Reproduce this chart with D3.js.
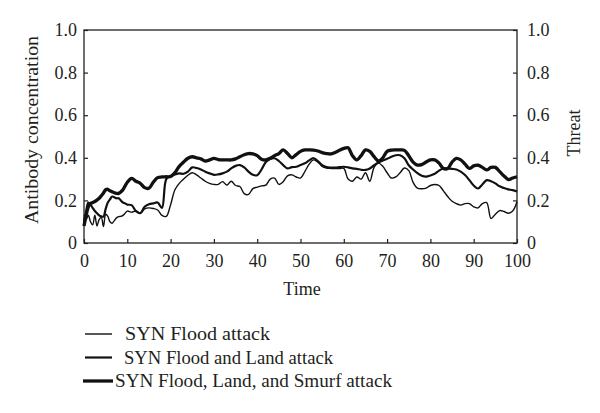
<!DOCTYPE html>
<html>
<head>
<meta charset="utf-8">
<script src="https://cdn.jsdelivr.net/npm/d3@7"></script>
<style>
  body { margin: 0; background: #fff; }
  text { font-family: "Liberation Serif", "Times New Roman", serif; fill: #231f20; }
</style>
</head>
<body>
<div id="chart"></div>
<script>
// time axis (sampled a bit finer at the start where the thin line wiggles)
var time = [0, 0.5, 1, 1.5, 2, 2.5, 3, 3.5, 4, 4.5, 5, 5.5, 6, 6.5, 7, 7.5, 8, 8.5, 9, 9.5,
  10, 11, 12, 13, 14, 15, 16, 17, 18, 19, 20, 21, 22, 23, 24, 25, 26, 27, 28, 29,
  30, 31, 32, 33, 34, 35, 36, 37, 38, 39, 40, 41, 42, 43, 44, 45, 46, 47, 48, 49,
  50, 51, 52, 53, 54, 55, 56, 57, 58, 59, 60, 61, 62, 63, 64, 65, 66, 67, 68, 69,
  70, 71, 72, 73, 74, 75, 76, 77, 78, 79, 80, 81, 82, 83, 84, 85, 86, 87, 88, 89,
  90, 91, 92, 93, 94, 95, 96, 97, 98, 99, 100];

var synFlood = [0.13, 0.11, 0.13, 0.10, 0.085, 0.13, 0.08, 0.11, 0.12, 0.077, 0.135, 0.125, 0.10, 0.093, 0.105, 0.118, 0.124, 0.125, 0.13, 0.14,
  0.15, 0.145, 0.15, 0.14, 0.16, 0.165, 0.162, 0.155, 0.13, 0.125, 0.18, 0.25, 0.28, 0.30, 0.318, 0.33, 0.32, 0.305, 0.29, 0.28,
  0.275, 0.275, 0.288, 0.272, 0.29, 0.27, 0.265, 0.232, 0.228, 0.255, 0.262, 0.268, 0.272, 0.30, 0.305, 0.275, 0.288, 0.315, 0.32, 0.31,
  0.305, 0.335, 0.37, 0.39, 0.38, 0.36, 0.352, 0.35, 0.35, 0.35, 0.35, 0.30, 0.29, 0.31, 0.30, 0.33, 0.29, 0.355, 0.375, 0.36,
  0.33, 0.305, 0.31, 0.33, 0.352, 0.34, 0.285, 0.258, 0.255, 0.258, 0.27, 0.275, 0.27, 0.245, 0.218, 0.196, 0.185, 0.178, 0.185, 0.185,
  0.17, 0.165, 0.185, 0.19, 0.115, 0.135, 0.152, 0.148, 0.14, 0.15, 0.194];

var synFloodLand = [0.10, 0.15, 0.19, 0.18, 0.165, 0.15, 0.14, 0.13, 0.125, 0.124, 0.16, 0.19, 0.205, 0.218, 0.215, 0.21, 0.21, 0.20, 0.19, 0.186,
  0.18, 0.178, 0.15, 0.14, 0.17, 0.182, 0.186, 0.19, 0.165, 0.30, 0.315, 0.322, 0.327, 0.325, 0.335, 0.355, 0.352, 0.345, 0.335, 0.327,
  0.32, 0.322, 0.327, 0.335, 0.35, 0.362, 0.366, 0.355, 0.335, 0.32, 0.318, 0.345, 0.38, 0.395, 0.398, 0.385, 0.366, 0.35, 0.356, 0.358,
  0.366, 0.374, 0.388, 0.398, 0.385, 0.365, 0.356, 0.354, 0.354, 0.356, 0.358, 0.355, 0.35, 0.348, 0.344, 0.343, 0.35, 0.365, 0.378, 0.387,
  0.395, 0.405, 0.412, 0.412, 0.398, 0.365, 0.345, 0.328, 0.316, 0.312, 0.317, 0.325, 0.34, 0.35, 0.35, 0.348, 0.345, 0.335, 0.319, 0.295,
  0.27, 0.256, 0.275, 0.295, 0.29, 0.28, 0.266, 0.258, 0.252, 0.248, 0.242];

var synFloodLandSmurf = [0.08, 0.13, 0.17, 0.185, 0.19, 0.195, 0.202, 0.21, 0.222, 0.235, 0.25, 0.252, 0.245, 0.241, 0.236, 0.233, 0.233, 0.24, 0.25, 0.268,
  0.285, 0.303, 0.29, 0.28, 0.26, 0.257, 0.285, 0.307, 0.31, 0.311, 0.312, 0.33, 0.36, 0.38, 0.398, 0.405, 0.40, 0.395, 0.385, 0.39,
  0.397, 0.392, 0.39, 0.39, 0.39, 0.395, 0.405, 0.414, 0.42, 0.418, 0.41, 0.393, 0.39, 0.398, 0.41, 0.42, 0.437, 0.42, 0.40, 0.415,
  0.43, 0.437, 0.437, 0.436, 0.432, 0.424, 0.42, 0.418, 0.425, 0.435, 0.444, 0.447, 0.41, 0.39, 0.41, 0.437, 0.43, 0.405, 0.385, 0.40,
  0.43, 0.436, 0.437, 0.437, 0.435, 0.41, 0.38, 0.366, 0.368, 0.38, 0.39, 0.39, 0.375, 0.35, 0.35, 0.38, 0.397, 0.39, 0.37, 0.35,
  0.362, 0.365, 0.355, 0.343, 0.355, 0.355, 0.335, 0.315, 0.298, 0.305, 0.311];

var seriesNames = ["SYN Flood attack", "SYN Flood and Land attack", "SYN Flood, Land, and Smurf attack"];
var xTicks = [0, 10, 20, 30, 40, 50, 60, 70, 80, 90, 100];
var yTicks = [0, 0.2, 0.4, 0.6, 0.8, 1.0];
var yTickLabels = ["0", "0.2", "0.4", "0.6", "0.8", "1.0"];

var width = 600;
var height = 413;
var margin = { top: 30, right: 83, bottom: 170, left: 84 };
var w = width - margin.left - margin.right;
var h = height - margin.top - margin.bottom;
var fontSize = 18;

var svg = d3.select("#chart").append("svg").attr("width", width).attr("height", height);
var g = svg.append("g").attr("transform", "translate(" + margin.left + "," + margin.top + ")");

var xScale = d3.scaleLinear().domain([0, 100]).range([0, w]);
var yScale = d3.scaleLinear().domain([0, 1]).range([h, 0]);

// frame
g.append("rect").attr("width", w).attr("height", h)
  .attr("fill", "none").attr("stroke", "#231f20").attr("stroke-width", 1.3);

function styleAxis(sel) {
  sel.select(".domain").remove();
  sel.selectAll("line").attr("stroke", "#231f20").attr("stroke-width", 1.2);
  sel.selectAll("text").attr("font-size", fontSize).style("font-family", "Liberation Serif, serif").attr("fill", "#231f20");
}

var fmt = function(d, i) { return yTickLabels[i]; };

g.append("g").attr("transform", "translate(0," + h + ")")
  .call(d3.axisBottom(xScale).tickValues(xTicks).tickSizeInner(-4).tickSizeOuter(0).tickPadding(11))
  .call(styleAxis);

g.append("g")
  .call(d3.axisLeft(yScale).tickValues(yTicks).tickFormat(fmt).tickSizeInner(-4).tickSizeOuter(0).tickPadding(7))
  .call(styleAxis);

g.append("g").attr("transform", "translate(" + w + ",0)")
  .call(d3.axisRight(yScale).tickValues(yTicks).tickFormat(fmt).tickSizeInner(-4).tickSizeOuter(0).tickPadding(10))
  .call(styleAxis);

// titles
svg.append("text").attr("x", 302).attr("y", 295)
  .attr("text-anchor", "middle").attr("font-size", fontSize).text("Time");

svg.append("text").attr("transform", "translate(38,130) rotate(-90)")
  .attr("text-anchor", "middle").attr("font-size", fontSize)
  .attr("textLength", 188).attr("lengthAdjust", "spacingAndGlyphs")
  .text("Antibody concentration");

svg.append("text").attr("transform", "translate(580,133) rotate(-90)")
  .attr("text-anchor", "middle").attr("font-size", fontSize).text("Threat");

// series
var series = [
  { name: seriesNames[0], values: synFlood, width: 1.4 },
  { name: seriesNames[1], values: synFloodLand, width: 2.2 },
  { name: seriesNames[2], values: synFloodLandSmurf, width: 3.3 }
];

var line = d3.line()
  .x(function(d, i) { return xScale(time[i]); })
  .y(function(d) { return yScale(d); })
  .curve(d3.curveCatmullRom.alpha(0.5));

g.selectAll("path.series").data(series).enter().append("path")
  .attr("class", "series")
  .attr("d", function(d) { return line(d.values); })
  .attr("fill", "none")
  .attr("stroke", "#111")
  .attr("stroke-width", function(d) { return d.width; })
  .attr("stroke-linejoin", "round");

// legend
var legendTextLen = [145, 209, 277];
var legend = svg.append("g").attr("transform", "translate(85,334)");
var rows = legend.selectAll("g").data(series).enter().append("g")
  .attr("transform", function(d, i) { return "translate(0," + (i * 23.5) + ")"; });
rows.append("line")
  .attr("x1", function(d, i) { return i == 2 ? -2 : 0; })
  .attr("x2", function(d, i) { return i == 2 ? 28 : 27; })
  .attr("stroke", "#111")
  .attr("stroke-width", function(d) { return d.width; });
rows.append("text")
  .attr("x", function(d, i) { return i == 2 ? 30 : (i == 1 ? 39 : 40); })
  .attr("y", 6)
  .attr("font-size", fontSize)
  .attr("textLength", function(d, i) { return legendTextLen[i]; })
  .attr("lengthAdjust", "spacingAndGlyphs")
  .text(function(d) { return d.name; });
</script>
</body>
</html>
